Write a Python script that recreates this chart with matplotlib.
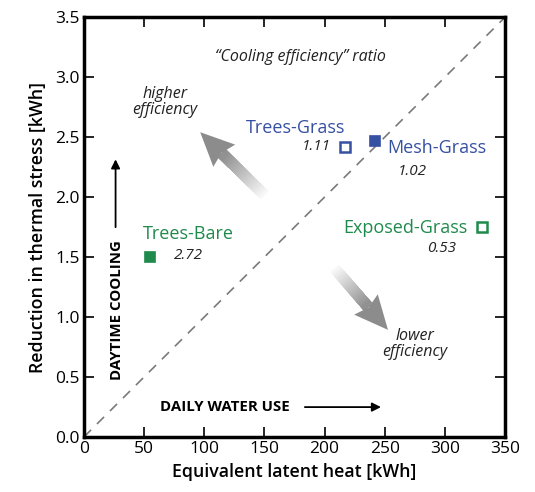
import numpy as np
import matplotlib
matplotlib.use("Agg")
import matplotlib.pyplot as plt
from matplotlib.patches import Polygon

plt.rcParams["font.family"] = ["Open Sans", "DejaVu Sans"]

# --- data -------------------------------------------------------------
NAMES = ["Trees-Bare", "Trees-Grass", "Mesh-Grass", "Exposed-Grass"]
LATENT = [55, 217, 242, 331]          # equivalent latent heat [kWh]
STRESS = [1.50, 2.42, 2.47, 1.75]     # reduction in thermal stress [kWh]
RATIO = ["2.72", "1.11", "1.02", "0.53"]
FILLED = [True, False, True, False]

GREEN = "#1f8a4c"
BLUE = "#3650a2"
COLORS = [GREEN, BLUE, BLUE, GREEN]
INK = "#222222"


def gray_arrow(ax, tail, tip, shaft_w=0.026, head_w=0.074, head_len=0.08, n=40):
    """fading gray arrow in axes-fraction coords"""
    tail = np.array(tail); tip = np.array(tip)
    d = tip - tail
    u = d / np.hypot(*d)
    nrm = np.array([-u[1], u[0]])
    base = tip - u * head_len
    # draw from the tip side back so lighter pieces sit underneath darker ones
    for i in range(n):
        a = tail + (base - tail) * i / n
        b = base + u * head_len * 0.1
        g = 0.98 - 0.42 * i / n
        pts = [a + nrm * shaft_w / 2, b + nrm * shaft_w / 2,
               b - nrm * shaft_w / 2, a - nrm * shaft_w / 2]
        ax.add_patch(Polygon(pts, closed=True, fc=(g, g, g), ec="none", lw=0,
                             transform=ax.transAxes, zorder=2))
    head = [base + nrm * head_w / 2, tip, base - nrm * head_w / 2,
            base + u * head_len * 0.12]
    ax.add_patch(Polygon(head, closed=True, fc="#8c8c8c", ec="none",
                         transform=ax.transAxes, zorder=2))


fig = plt.figure(figsize=(5.35, 4.92), dpi=100)
ax = fig.add_axes([0.157, 0.112, 0.787, 0.853])
ax.set_xlim(0, 350)
ax.set_ylim(0, 3.5)

# 1:1 efficiency line
ax.plot([0, 350], [0, 3.5], ls=(0, (6, 5)), color="#7a7a7a", lw=1.2, zorder=1)

for x, y, c, f in zip(LATENT, STRESS, COLORS, FILLED):
    ax.plot(x, y, marker="s", ms=7.5 if f else 6.5, color=c,
            mfc=c if f else "white", mew=1.2 if f else 1.8, zorder=4, ls="none")

lab_kw = dict(fontsize=13, zorder=5, va="center")
num_kw = dict(fontsize=11, style="italic", color=INK, zorder=5, va="center")
ax.text(86.5, 1.69, NAMES[0], color=COLORS[0], ha="center", **lab_kw)
ax.text(75, 1.51, RATIO[0], ha="left", **num_kw)
ax.text(217, 2.58, NAMES[1], color=COLORS[1], ha="right", **lab_kw)
ax.text(205, 2.42, RATIO[1], ha="right", **num_kw)
ax.text(252, 2.41, NAMES[2], color=COLORS[2], ha="left", **lab_kw)
ax.text(261, 2.21, RATIO[2], ha="left", **num_kw)
ax.text(319, 1.74, NAMES[3], color=COLORS[3], ha="right", **lab_kw)
ax.text(285, 1.57, RATIO[3], ha="left", **num_kw)

ax.text(0.513, 0.905, "\u201cCooling efficiency\u201d ratio", transform=ax.transAxes,
        ha="center", va="center", fontsize=11.5, style="italic", color=INK)
ax.text(0.192, 0.798, "higher\nefficiency", transform=ax.transAxes, ha="center", va="center",
        fontsize=11.5, style="italic", color=INK, linespacing=1.05)
ax.text(0.786, 0.221, "lower\nefficiency", transform=ax.transAxes, ha="center", va="center",
        fontsize=11.5, style="italic", color=INK, linespacing=1.05)

gray_arrow(ax, (0.430, 0.575), (0.276, 0.726))
gray_arrow(ax, (0.595, 0.402), (0.722, 0.255))

# direction cues
ax.text(0.078, 0.302, "DAYTIME COOLING", transform=ax.transAxes, rotation=90,
        ha="center", va="center", fontsize=10.8, fontweight="bold", color="black")
ax.annotate("", xy=(0.075, 0.668), xytext=(0.075, 0.493), xycoords="axes fraction",
            arrowprops=dict(arrowstyle="-|>", color="black", lw=1.3, mutation_scale=13))
ax.text(0.335, 0.071, "DAILY WATER USE", transform=ax.transAxes,
        ha="center", va="center", fontsize=10.8, fontweight="bold", color="black")
ax.annotate("", xy=(0.712, 0.071), xytext=(0.518, 0.071), xycoords="axes fraction",
            arrowprops=dict(arrowstyle="-|>", color="black", lw=1.3, mutation_scale=13))

ax.set_xticks(np.arange(0, 351, 50))
ax.set_yticks(np.arange(0, 3.51, 0.5))
ax.set_yticklabels([f"{v:.1f}" for v in np.arange(0, 3.51, 0.5)])
ax.tick_params(direction="in", length=7, width=1.2, top=True, right=True,
               labelsize=12.5, pad=3, colors="black")
for s in ax.spines.values():
    s.set_linewidth(2.5)
ax.set_xlabel("Equivalent latent heat [kWh]", fontsize=12.8, fontweight="semibold", labelpad=4)
ax.set_ylabel("Reduction in thermal stress [kWh]", fontsize=12.8, fontweight="semibold", labelpad=6)

fig.savefig("out.png", dpi=100, facecolor="white")
